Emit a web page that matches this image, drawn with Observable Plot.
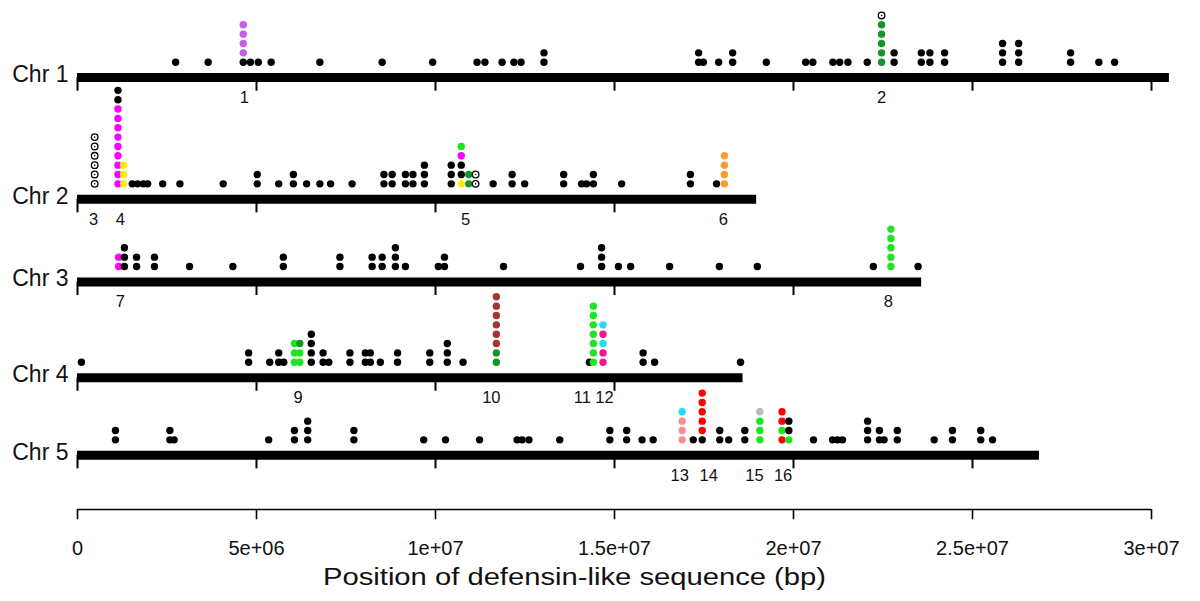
<!DOCTYPE html>
<html><head><meta charset="utf-8">
<script src="https://cdn.jsdelivr.net/npm/d3@7"></script>
<script src="https://cdn.jsdelivr.net/npm/@observablehq/plot@0.6"></script>
<style>body{margin:0;background:#fff}</style>
</head><body><div id="chart"></div>
<script>
// ---- data ----
const chromosomes = ["Chr 1", "Chr 2", "Chr 3", "Chr 4", "Chr 5"];
const chrLength = [30.50e6, 18.97e6, 23.58e6, 18.59e6, 26.87e6];

// positions (bp) of stacks; code strings list dot classes bottom -> top
const chr1Pos = [2.74e6,3.65e6,4.63e6,4.83e6,5.05e6,5.41e6,6.77e6,8.51e6,9.92e6,11.16e6,11.38e6,11.86e6,12.19e6,12.39e6,13.03e6,17.35e6,17.48e6,17.91e6,18.30e6,19.24e6,20.34e6,20.54e6,21.10e6,21.29e6,21.52e6,22.06e6,22.46e6,22.81e6,23.57e6,23.81e6,24.22e6,25.84e6,26.29e6,27.74e6,28.53e6,28.97e6];
const chr1Dots = ["k","k","kPPPP","k","k","k","k","k","k","k","k","k","k","k","kk","kk","k","k","kk","k","k","k","k","k","k","k","GGGGGo","kk","kk","kk","kk","kkk","kkk","kk","k","k"];

const chr2Pos = [0.48e6,1.13e6,1.29e6,1.53e6,1.68e6,1.84e6,1.96e6,2.38e6,2.86e6,4.07e6,5.02e6,5.62e6,6.03e6,6.40e6,6.77e6,7.07e6,7.67e6,8.56e6,8.79e6,9.16e6,9.37e6,9.69e6,10.44e6,10.72e6,10.93e6,11.12e6,11.61e6,12.14e6,12.49e6,13.58e6,14.08e6,14.22e6,14.41e6,15.20e6,17.12e6,17.85e6,18.07e6];
const chr2Dots = ["oooooo","MMMMMMMMMkk","YYY","k","k","k","k","k","k","k","kk","k","kk","k","k","k","k","kk","kk","kk","kk","kkk","kkk","YkkML","GG","oo","k","kk","k","kk","k","k","kk","k","kk","k","OOOO"];

const chr3Pos = [1.15e6,1.31e6,1.65e6,2.15e6,3.13e6,4.34e6,5.75e6,7.33e6,8.23e6,8.51e6,8.88e6,9.16e6,10.08e6,10.25e6,11.90e6,14.05e6,14.64e6,15.11e6,15.45e6,16.54e6,17.93e6,18.99e6,22.23e6,22.72e6,23.48e6];
const chr3Dots = ["MM","kkk","kk","kk","k","k","kk","kk","kk","kk","kkk","k","k","kk","k","k","kkk","k","k","k","k","k","k","LLLLL","k"];

const chr4Pos = [0.11e6,4.78e6,5.37e6,5.62e6,5.76e6,6.06e6,6.21e6,6.53e6,6.86e6,7.02e6,7.61e6,8.04e6,8.18e6,8.46e6,8.94e6,9.84e6,10.33e6,10.77e6,11.70e6,14.30e6,14.41e6,14.68e6,15.80e6,16.12e6,18.52e6];
const chr4Dots = ["k","kk","k","kk","k","LLL","LLG","kkkk","kk","k","kk","kk","kk","k","kk","kk","kkk","k","GGBBBBBB","k","LLLLLLL","DDCDC","kk","k","k"];

const chr5Pos = [1.06e6,2.58e6,2.70e6,5.34e6,6.06e6,6.43e6,7.72e6,9.67e6,10.28e6,11.23e6,12.28e6,12.42e6,12.61e6,13.47e6,14.87e6,15.34e6,15.77e6,16.08e6,16.89e6,17.20e6,17.45e6,17.94e6,18.19e6,18.64e6,19.06e6,19.68e6,19.87e6,20.56e6,21.09e6,21.23e6,21.37e6,22.07e6,22.40e6,22.53e6,22.90e6,23.93e6,24.44e6,25.23e6,25.56e6];
const chr5Dots = ["kk","kk","k","k","kk","kkk","kk","k","k","k","k","k","k","k","kk","kk","k","k","SSSC","k","kRRRRR","kk","k","kk","LLLA","RLRR","Lkk","k","k","k","k","kkk","kk","k","kk","k","kk","kk","k"];

// numbered clusters
const clusterLabels = ["1","2","3","4","5","6","7","8","9","10","11","12","13","14","15","16"];
const clusterChr = [0,0,1,1,1,1,2,2,3,3,3,3,4,4,4,4];
const clusterPos = [4.66e6,22.46e6,0.45e6,1.20e6,10.84e6,18.04e6,1.20e6,22.65e6,6.16e6,11.56e6,14.10e6,14.72e6,16.82e6,17.63e6,18.91e6,19.71e6];

// x axis ticks
const tickValues = [0, 5e6, 1e7, 1.5e7, 2e7, 2.5e7, 3e7];
const tickLabels = ["0", "5e+06", "1e+07", "1.5e+07", "2e+07", "2.5e+07", "3e+07"];
const xTitle = "Position of defensin-like sequence (bp)";

// ---- styles / layout ----
const classCodes  = ["k", "P", "M", "Y", "G", "L", "O", "B", "C", "D", "S", "R", "A"];
const classColors = ["#000000", "#c65cf0", "#ff00ff", "#ffee00", "#13952a", "#1ee61e", "#ff9a2e", "#a83232", "#22ddee", "#ee1890", "#f59090", "#ff0000", "#bbbbbb"];
const rowBase = [46.19, 33.18, 24.34, 14.1, 5.8]; // in dot-step units above x-axis line
const lift = 1.65;

const posArr = [chr1Pos, chr2Pos, chr3Pos, chr4Pos, chr5Pos];
const dotArr = [chr1Dots, chr2Dots, chr3Dots, chr4Dots, chr5Dots];
const dots = [];
posArr.forEach((pos, c) => pos.forEach((p, i) => [...dotArr[c][i]].forEach((code, level) => dots.push({chr: c, pos: p, level, code}))));
const filled = dots.filter(d => d.code !== "o");
const open = dots.filter(d => d.code === "o");

const bars = chromosomes.map((name, c) => ({name, c, len: chrLength[c]}));
const chrTicks = [];
bars.forEach(b => d3.range(0, b.len + 1, 5e6).forEach(t => chrTicks.push({c: b.c, t})));
const clusters = clusterLabels.map((l, i) => ({l, c: clusterChr[i], pos: clusterPos[i]}));
const axisTicks = tickValues.map((v, i) => ({v, label: tickLabels[i]}));

const yOf = d => rowBase[d.chr] + lift + d.level;

const chart = Plot.plot({
  width: 1200, height: 601,
  marginLeft: 77, marginRight: 49, marginTop: 0, marginBottom: 92,
  style: {fontFamily: "Liberation Sans, Arial, sans-serif", background: "#fff"},
  x: {domain: [0, 3e7], axis: null},
  y: {domain: [0, 509 / 9.35], axis: null},
  color: {domain: classCodes, range: classColors},
  marks: [
    // chromosome bars
    Plot.ruleY(bars, {y: d => rowBase[d.c], x1: 0, x2: "len", stroke: "#000", strokeWidth: 9}),
    Plot.ruleX(chrTicks, {x: "t", y1: d => rowBase[d.c], y2: d => rowBase[d.c] - 1.45, stroke: "#000", strokeWidth: 2}),
    Plot.text(bars, {x: 0, y: d => rowBase[d.c], text: "name", textAnchor: "end", dx: -9, dy: -3, fontSize: 23, fill: "#111"}),
    // dots
    Plot.dot(filled, {x: "pos", y: yOf, r: 3.7, fill: "code", stroke: null}),
    Plot.dot(open, {x: "pos", y: yOf, r: 3.3, fill: "#fff", stroke: "#000", strokeWidth: 1.3}),
    Plot.dot(open, {x: "pos", y: yOf, r: 0.8, fill: "#000"}),
    // cluster numbers
    Plot.text(clusters, {x: "pos", y: d => rowBase[d.c], text: "l", dy: 20, fontSize: 16.5, fill: "#111"}),
    // x axis
    Plot.ruleY([0], {x1: 0, x2: 3e7, stroke: "#000", strokeWidth: 1.6}),
    Plot.ruleX(axisTicks, {x: "v", y1: 0, y2: -1.1, stroke: "#000", strokeWidth: 1.6}),
    Plot.text(axisTicks, {x: "v", y: 0, text: "label", dy: 39, fontSize: 20, fill: "#111"}),
    Plot.text([xTitle], {frameAnchor: "bottom", dx: -40, dy: 75, fontSize: 23, fill: "#111"})
  ]
});
// the reference title is set in a horizontally wider face: stretch it to its measured width
d3.select(chart).selectAll("text").filter(function() { return this.textContent === xTitle; })
  .attr("textLength", 503).attr("lengthAdjust", "spacingAndGlyphs");
document.getElementById("chart").appendChild(chart);
</script>
</body></html>
